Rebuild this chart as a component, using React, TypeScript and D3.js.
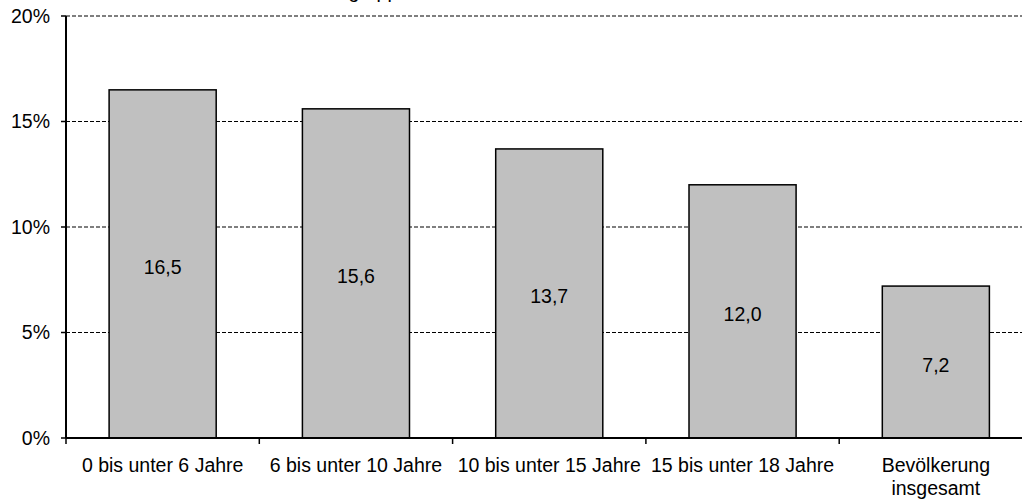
import React from "react";
import * as d3 from "d3";

const categories: string[][] = [
  ["0 bis unter 6 Jahre"],
  ["6 bis unter 10 Jahre"],
  ["10 bis unter 15 Jahre"],
  ["15 bis unter 18 Jahre"],
  ["Bevölkerung", "insgesamt"],
];
const values: number[] = [16.5, 15.6, 13.7, 12.0, 7.2];
const yTicks: number[] = [0, 5, 10, 15, 20];
const titleText = "nach Altersgruppen";

const W = 1022;
const H = 499;
const left = 66;
const top = 16;
const bottom = 438;
const plotRight = 1032.5;
const font = "'Liberation Sans', Arial, sans-serif";
const fs = 19.5;

export default function App() {
  const keys = categories.map((c) => c.join(" "));
  const x = d3
    .scaleBand<string>()
    .domain(keys)
    .range([left, plotRight])
    .paddingInner(0.446)
    .paddingOuter(0.223);
  const y = d3.scaleLinear().domain([0, 20]).range([bottom, top]);
  const step = x.step();
  const boundaries = d3.range(keys.length + 1).map((i) => left + i * step);
  const fmt = (v: number) => v.toFixed(1).replace(".", ",");

  return (
    <svg
      width={W}
      height={H}
      style={{ position: "absolute", left: 0, top: 0, overflow: "hidden", background: "#fff" }}
      fontFamily={font}
    >
      <text x={420} y={-2.5} textAnchor="end" fontSize={fs} fill="#000">
        {titleText}
      </text>
      {/* gridlines */}
      {yTicks
        .filter((t) => t > 0)
        .map((t) => (
          <line
            key={"g" + t}
            x1={left}
            x2={W + 20}
            y1={y(t)}
            y2={y(t)}
            stroke="#000"
            strokeWidth={1.2}
            strokeDasharray="4,2"
          />
        ))}
      {/* bars */}
      {keys.map((k, i) => (
        <rect
          key={k}
          x={x(k)}
          y={y(values[i])}
          width={x.bandwidth()}
          height={bottom - y(values[i])}
          fill="#c0c0c0"
          stroke="#000"
          strokeWidth={1.5}
        />
      ))}
      {/* value labels */}
      {keys.map((k, i) => (
        <text
          key={"v" + k}
          x={(x(k) as number) + x.bandwidth() / 2}
          y={(y(values[i]) + bottom) / 2 + 3}
          dy="0.35em"
          textAnchor="middle"
          fontSize={fs}
          fill="#000"
        >
          {fmt(values[i])}
        </text>
      ))}
      {/* y axis */}
      <line x1={left} x2={left} y1={top} y2={bottom} stroke="#000" strokeWidth={2} />
      {yTicks.map((t) => (
        <g key={"yt" + t}>
          <line x1={left - 5} x2={left} y1={y(t)} y2={y(t)} stroke="#000" strokeWidth={1.5} />
          <text x={50} y={y(t)} dy="0.35em" textAnchor="end" fontSize={fs} fill="#000">
            {t + "%"}
          </text>
        </g>
      ))}
      {/* x axis */}
      <line x1={left} x2={W + 20} y1={bottom} y2={bottom} stroke="#000" strokeWidth={2} />
      {boundaries.map((b, i) => (
        <line key={"xt" + i} x1={b} x2={b} y1={bottom} y2={bottom + 6} stroke="#000" strokeWidth={1.5} />
      ))}
      {categories.map((lines, i) => (
        <text
          key={"c" + i}
          x={(x(keys[i]) as number) + x.bandwidth() / 2}
          y={465}
          dy="0.35em"
          textAnchor="middle"
          fontSize={fs}
          fill="#000"
        >
          {lines.map((l, j) => (
            <tspan key={j} x={(x(keys[i]) as number) + x.bandwidth() / 2} dy={j === 0 ? "0.35em" : 23}>
              {l}
            </tspan>
          ))}
        </text>
      ))}
    </svg>
  );
}
